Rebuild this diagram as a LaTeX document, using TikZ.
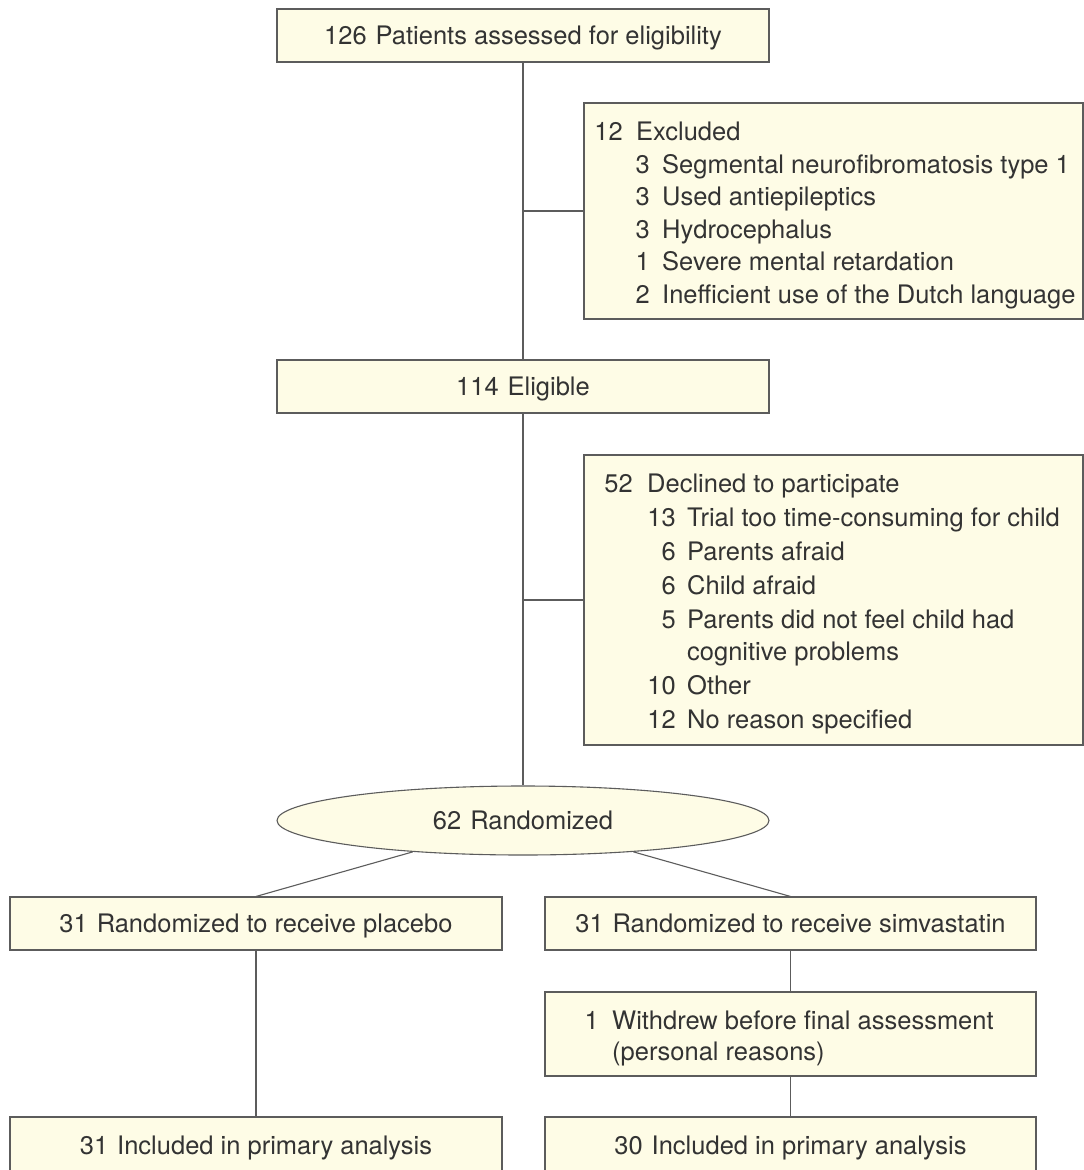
\documentclass[tikz,border=0pt]{standalone}
\usepackage{fontspec}
\setmainfont{TeX Gyre Heros}
\usetikzlibrary{shapes.geometric}
\definecolor{boxfill}{HTML}{FEFCE6}
\definecolor{edgegray}{HTML}{5C5C5C}
\definecolor{ink}{HTML}{333333}
\begin{document}
\begin{tikzpicture}[x=1pt,y=-1pt,
  every node/.style={font=\fontsize{25.5}{32}\selectfont, text=ink},
  box/.style={draw=edgegray, fill=boxfill, line width=1.1pt, rectangle, inner sep=0pt, text height=18.5pt, text depth=0pt},
  oval/.style={draw=edgegray, fill=boxfill, line width=1.1pt, ellipse, inner sep=0pt, minimum width=492pt, minimum height=69pt, text height=18.5pt, text depth=0pt},
  conn/.style={draw=edgegray, line width=1.1pt},
  num/.style={anchor=base east, inner sep=0pt},
  lbl/.style={anchor=base west, inner sep=0pt}]
\useasboundingbox (0,0) rectangle (1084,1170);
\fill[white] (0,0) rectangle (1084,1170);

% main boxes
\node[box, minimum width=492pt, minimum height=53pt] (top) at (523,35.5) {126\hspace{0.35em}Patients assessed for eligibility};
\node[box, minimum width=499pt, minimum height=216pt] (excl) at (833.5,211) {};
\node[box, minimum width=492pt, minimum height=53pt] (elig) at (523,386.5) {114\hspace{0.35em}Eligible};
\node[box, minimum width=499pt, minimum height=290pt] (decl) at (833.5,600) {};
\node[oval] (rand) at (523,820.5) {62\hspace{0.35em}Randomized};
\node[box, minimum width=492pt, minimum height=53pt] (plac) at (256,923.5) {31\hspace{0.35em}Randomized to receive placebo};
\node[box, minimum width=491pt, minimum height=53pt] (simv) at (790.5,923.5) {31\hspace{0.35em}Randomized to receive simvastatin};
\node[box, minimum width=491pt, minimum height=84pt] (with) at (790.5,1034) {};
\node[box, minimum width=492pt, minimum height=56pt] (plac2) at (256,1145) {31\hspace{0.35em}Included in primary analysis};
\node[box, minimum width=491pt, minimum height=56pt] (simv2) at (790.5,1145) {30\hspace{0.35em}Included in primary analysis};

% excluded list
\node[num] (e0n) at (623,140.5) {12}; \node[lbl] (e0t) at (636,140.5) {Excluded};
\node[num] (e1n) at (650,173) {3}; \node[lbl] (e1t) at (662,173) {Segmental neurofibromatosis type 1};
\node[num] (e2n) at (650,205.5) {3}; \node[lbl] (e2t) at (662,205.5) {Used antiepileptics};
\node[num] (e3n) at (650,238) {3}; \node[lbl] (e3t) at (662,238) {Hydrocephalus};
\node[num] (e4n) at (650,270.5) {1}; \node[lbl] (e4t) at (662,270.5) {Severe mental retardation};
\node[num] (e5n) at (650,303) {2}; \node[lbl] (e5t) at (662,303) {Inefficient use of the Dutch language};

% declined list
\node[num] (d0n) at (633,492) {52}; \node[lbl] (d0t) at (647,492) {Declined to participate};
\node[num] (d1n) at (676,526) {13}; \node[lbl] (d1t) at (687,526) {Trial too time-consuming for child};
\node[num] (d2n) at (676,560) {6}; \node[lbl] (d2t) at (687,560) {Parents afraid};
\node[num] (d3n) at (676,594) {6}; \node[lbl] (d3t) at (687,594) {Child afraid};
\node[num] (d4n) at (676,628) {5}; \node[lbl] (d4t) at (687,628) {Parents did not feel child had};
\node[lbl] (d4u) at (687,660) {cognitive problems};
\node[num] (d5n) at (676,694) {10}; \node[lbl] (d5t) at (687,694) {Other};
\node[num] (d6n) at (676,728) {12}; \node[lbl] (d6t) at (687,728) {No reason specified};

% withdrew
\node[num] (w0n) at (599,1029) {1}; \node[lbl] (w0t) at (612,1029) {Withdrew before final assessment};
\node[lbl] (w1t) at (612,1060) {(personal reasons)};

% connectors
\draw[conn] (top) -- (elig);
\draw[conn] (top.south |- excl.west) -- (excl.west);
\draw[conn] (elig) -- (rand);
\draw[conn] (elig.south |- decl.west) -- (decl.west);
\draw[conn] (rand) -- (plac.north);
\draw[conn] (rand) -- (simv.north);
\draw[conn] (plac) -- (plac2);
\draw[conn] (simv) -- (with);
\draw[conn] (with) -- (simv2);
\end{tikzpicture}
\end{document}
